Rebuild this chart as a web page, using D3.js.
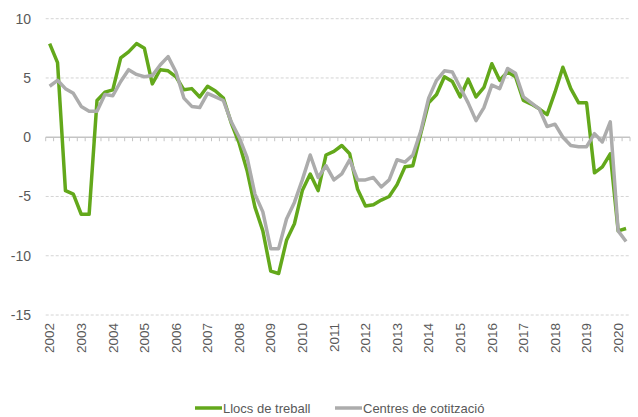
<!DOCTYPE html>
<html>
<head>
<meta charset="utf-8">
<script src="https://cdn.jsdelivr.net/npm/d3@7"></script>
<style>
  body { margin: 0; background: #fff; }
  text { font-family: 'Liberation Sans', Arial, sans-serif; fill: #595959; }
</style>
</head>
<body>
<div id="chart"></div>
<script>
// data: quarterly year-on-year change, 2002Q1 - 2020Q2
const years = d3.range(2002, 2021)
const quarters = []
years.forEach(y => [1, 2, 3, 4].forEach(q => { if (y < 2020 || q <= 2) quarters.push(y + 'Q' + q) }))

const llocs = [
  7.9, 6.3, -4.5, -4.8,
  -6.5, -6.5, 3.1, 3.8,
  4.0, 6.7, 7.2, 7.9,
  7.5, 4.5, 5.7, 5.6,
  5.1, 4.0, 4.1, 3.4,
  4.3, 3.9, 3.3, 1.2,
  -0.5, -2.8, -5.9, -7.9,
  -11.3, -11.5, -8.7, -7.3,
  -4.5, -3.1, -4.5, -1.5,
  -1.2, -0.7, -1.4, -4.4,
  -5.8, -5.7, -5.3, -5.0,
  -4.0, -2.5, -2.4, 0.3,
  2.9, 3.6, 5.1, 4.7,
  3.4, 4.9, 3.4, 4.2,
  6.2, 4.8, 5.5, 5.1,
  3.1, 2.8, 2.4, 1.9,
  3.8, 5.9, 4.1, 2.9,
  2.9, -3.0, -2.5, -1.4,
  -7.9, -7.7
]
const centres = [
  4.3, 4.8, 4.1, 3.7,
  2.6, 2.2, 2.2, 3.6,
  3.5, 4.7, 5.7, 5.3,
  5.1, 5.2, 6.1, 6.8,
  5.5, 3.3, 2.6, 2.5,
  3.7, 3.4, 3.1, 1.3,
  0.0, -1.7, -4.8, -6.3,
  -9.4, -9.4, -6.9, -5.5,
  -3.6, -1.5, -3.4, -2.4,
  -3.6, -3.1, -1.9, -3.6,
  -3.6, -3.4, -4.2, -3.6,
  -1.9, -2.1, -1.5, 0.5,
  3.3, 4.8, 5.6, 5.5,
  4.2, 2.9, 1.4, 2.5,
  4.4, 4.1, 5.8, 5.4,
  3.4, 2.9, 2.4, 0.9,
  1.1, 0.0, -0.7, -0.8,
  -0.8, 0.3, -0.4, 1.3,
  -7.9, -8.8
]
const yTicks = [-15, -10, -5, 0, 5, 10]
const seriesNames = ['Llocs de treball', 'Centres de cotització']
const seriesColors = ['#63a81b', '#acacac']

// sizes
const width = 638
const height = 417
const plot = { left: 45.7, right: 630, top: 18.7, bottom: 315 }

const svg = d3.select('#chart')
  .append('svg')
  .attr('width', width)
  .attr('height', height)

const x = d3.scaleBand().domain(quarters).range([plot.left, plot.right])
const y = d3.scaleLinear().domain([-15, 10]).range([plot.bottom, plot.top])
const cx = d => x(d) + x.bandwidth() / 2

// grid lines
svg.append('g')
  .selectAll('line')
  .data(yTicks.filter(v => v !== 0))
  .enter().append('line')
  .attr('x1', plot.left).attr('x2', plot.right)
  .attr('y1', d => y(d)).attr('y2', d => y(d))
  .style('stroke', '#d4d4d4')
  .style('stroke-width', 1)
  .style('stroke-dasharray', '3,2')

// y labels
svg.append('g')
  .selectAll('text')
  .data(yTicks)
  .enter().append('text')
  .attr('x', 31)
  .attr('y', d => y(d))
  .attr('dy', '0.35em')
  .attr('text-anchor', 'end')
  .style('font-size', '14px')
  .text(d => d)

// zero axis with quarter ticks
const axis = svg.append('g')
axis.append('line')
  .attr('x1', plot.left).attr('x2', plot.right)
  .attr('y1', y(0)).attr('y2', y(0))
  .style('stroke', '#c4c4c4')
  .style('stroke-width', 1.5)
axis.selectAll('line.tick')
  .data(quarters.concat([null]))
  .enter().append('line')
  .attr('class', 'tick')
  .attr('x1', d => d ? x(d) : plot.right)
  .attr('x2', d => d ? x(d) : plot.right)
  .attr('y1', y(0)).attr('y2', y(0) + 4)
  .style('stroke', '#c4c4c4')
  .style('stroke-width', 1)

// x labels (year, at Q1)
svg.append('g')
  .selectAll('text')
  .data(years)
  .enter().append('text')
  .attr('transform', d => `translate(${cx(d + 'Q1')},${plot.bottom + 8}) rotate(-90)`)
  .attr('dy', '0.35em')
  .attr('text-anchor', 'end')
  .style('font-size', '13.5px')
  .text(d => d)

// lines
const line = d3.line()
  .x((d, i) => cx(quarters[i]))
  .y(d => y(d))

svg.append('g')
  .selectAll('path')
  .data([llocs, centres])
  .enter().append('path')
  .attr('d', line)
  .style('fill', 'none')
  .style('stroke', (d, i) => seriesColors[i])
  .style('stroke-width', 3.5)
  .style('stroke-linejoin', 'round')

// legend
const legendX = [195, 335]
const legend = svg.append('g')
  .selectAll('g')
  .data(seriesNames)
  .enter().append('g')
  .attr('transform', (d, i) => `translate(${legendX[i]},408)`)
legend.append('line')
  .attr('x1', 0).attr('x2', 27)
  .style('stroke', (d, i) => seriesColors[i])
  .style('stroke-width', 3.5)
legend.append('text')
  .attr('x', 28)
  .attr('dy', '0.35em')
  .style('font-size', '13px')
  .text(d => d)
</script>
</body>
</html>
